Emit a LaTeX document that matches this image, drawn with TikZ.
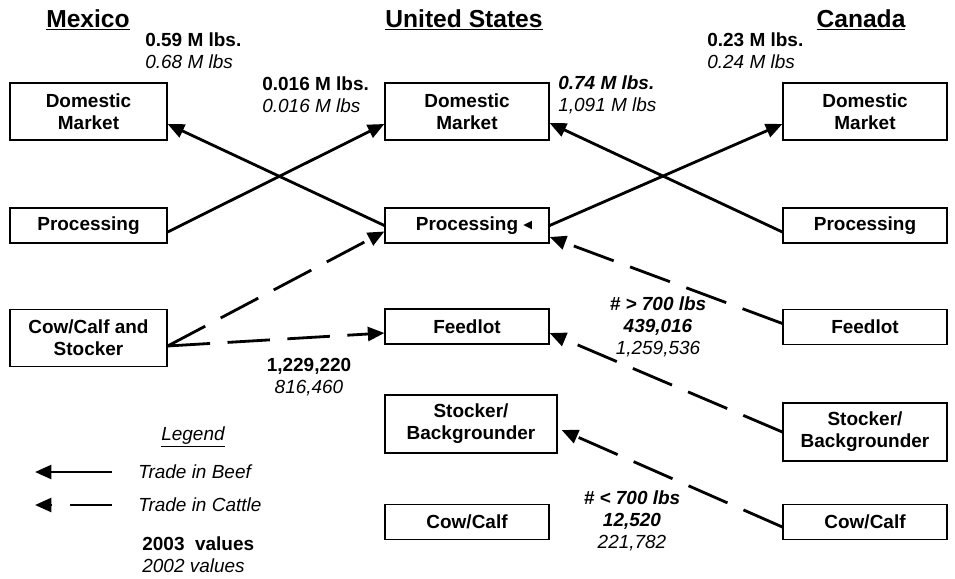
\documentclass[tikz,border=0pt]{standalone}
\usepackage{fontspec}
\setmainfont{Liberation Sans}
\newfontfamily\symfont{DejaVu Sans}
\usepackage{tikz}
\usetikzlibrary{arrows.meta}
\newcommand{\valfont}{\fontsize{10.8}{12.5}\selectfont}
\newcommand{\tritip}{\raisebox{0.8pt}{\symfont\fontsize{6.5}{8}\selectfont ◀}}
\tikzset{
  flowbox/.style={ draw, line width=0.75pt, minimum width=3.28cm, minimum height=0.7cm, align=center, inner sep=1pt, font=\valfont\bfseries }
}
\tikzset{
  tallbox/.style={ flowbox, minimum height=1.14cm }
}
\tikzset{
  beef/.style={ -{Triangle[length=3.3mm, width=2.8mm]}, line width=1.6pt }
}
\tikzset{
  cattle/.style={ beef, dash pattern=on 0.85cm off 0.35cm }
}
\tikzset{
  country/.style={ font=\fontsize{14}{16}\selectfont\bfseries }
}
\tikzset{
  vals/.style={ align=left, anchor=west, inner sep=0pt, font=\valfont }
}
\tikzset{
  midvals/.style={ align=center, inner sep=0pt, font=\valfont }
}

\begin{document}
\begin{tikzpicture}[x=0.02cm, y=-0.02cm]
  \useasboundingbox (0, 0) rectangle (955, 578);

  % countries
  \node[country] (mexico) at (88, 20) {\underline{Mexico}};
  \node[country] (usa) at (464, 20) {\underline{United States}};
  \node[country] (canada) at (861, 20) {\underline{Canada}};

  % Mexico column
  \node[tallbox, minimum width=3.14cm] (mxdm) at (88.5, 111.5) {Domestic\\Market};
  \node[flowbox, minimum width=3.14cm] (mxproc) at (88.5, 225.5) {Processing};
  \node[tallbox, minimum width=3.14cm] (mxcow) at (88.5, 338) {Cow/Calf and\\Stocker};

  % US column
  \node[tallbox] (usdm) at (467, 111.5) {Domestic\\Market};
  \node[flowbox] (usproc) at (467, 225.5) {\phantom{\tritip\ }Processing\ \tritip};
  \node[flowbox] (usfeed) at (467, 326.5) {Feedlot};
  \node[tallbox, minimum width=3.44cm, minimum height=1.16cm] (usstock) at (471, 424) {Stocker/\\Backgrounder};
  \node[flowbox] (uscow) at (467, 522) {Cow/Calf};

  % Canada column
  \node[tallbox] (cadm) at (865, 111.5) {Domestic\\Market};
  \node[flowbox] (caproc) at (865, 225.5) {Processing};
  \node[flowbox] (cafeed) at (865, 327) {Feedlot};
  \node[tallbox, minimum height=1.16cm] (castock) at (865, 432) {Stocker/\\Backgrounder};
  \node[flowbox] (cacow) at (865, 522) {Cow/Calf};

  % beef trade
  \draw[beef] ([yshift=-0.13cm]mxproc.east) -- ([yshift=-0.25cm]usdm.west);
  \draw[beef] (usproc.west) -- ([yshift=-0.25cm]mxdm.east);
  \draw[beef] (usproc.east) -- ([yshift=-0.25cm]cadm.west);
  \draw[beef] ([yshift=-0.13cm]caproc.west) -- ([yshift=-0.23cm]usdm.east);

  % cattle trade
  \draw[cattle] ([yshift=-0.16cm]mxcow.east) -- ([yshift=-0.12cm]usproc.west);
  \draw[cattle] ([yshift=-0.16cm]mxcow.east) -- ([yshift=-0.13cm]usfeed.west);
  \draw[cattle] ([yshift=0.07cm]cafeed.west) -- ([yshift=-0.23cm]usproc.east);
  \draw[cattle] (castock.west) -- ([yshift=-0.13cm]usfeed.east);
  \draw[cattle] ([yshift=-0.1cm]cacow.west) -- ([xshift=0.08cm, yshift=-0.12cm]usstock.east);

  % values
  \node[vals] (valmx) at (145, 51) {\bfseries 0.59 M lbs.\\\itshape 0.68 M lbs};
  \node[vals] (valusmx) at (262, 95) {\bfseries 0.016 M lbs.\\\itshape 0.016 M lbs};
  \node[vals] (valusca) at (558, 95) {\bfseries\itshape 0.74 M lbs.\\\itshape 1,091 M lbs};
  \node[vals] (valca) at (707, 51) {\bfseries 0.23 M lbs.\\\itshape 0.24 M lbs};
  \node[midvals] (valfeedmx) at (309, 377) {\bfseries 1,229,220\\\itshape 816,460};
  \node[midvals] (valfeedca) at (658, 327) {\bfseries\itshape \# > 700 lbs\\\bfseries\itshape 439,016\\\itshape 1,259,536};
  \node[midvals] (valstockca) at (632, 521) {\bfseries\itshape \# < 700 lbs\\\bfseries\itshape 12,520\\\itshape 221,782};

  % legend
  \node[midvals] (legend) at (193, 437) {\itshape\underline{Legend}};
  \coordinate (beefA) at (112, 472);
  \coordinate (beefB) at (35, 472);
  \coordinate (cattleA) at (112, 505);
  \coordinate (cattleB) at (35, 505);
  \draw[beef] (beefA) -- (beefB);
  \draw[cattle] (cattleA) -- (cattleB);
  \node[vals] (beeftxt) at (138, 472) {\itshape Trade in Beef};
  \node[vals] (cattletxt) at (138, 505) {\itshape Trade in Cattle};
  \node[vals] (years) at (142, 555) {\bfseries 2003\ \ values\\\itshape 2002 values};
\end{tikzpicture}
\end{document}
